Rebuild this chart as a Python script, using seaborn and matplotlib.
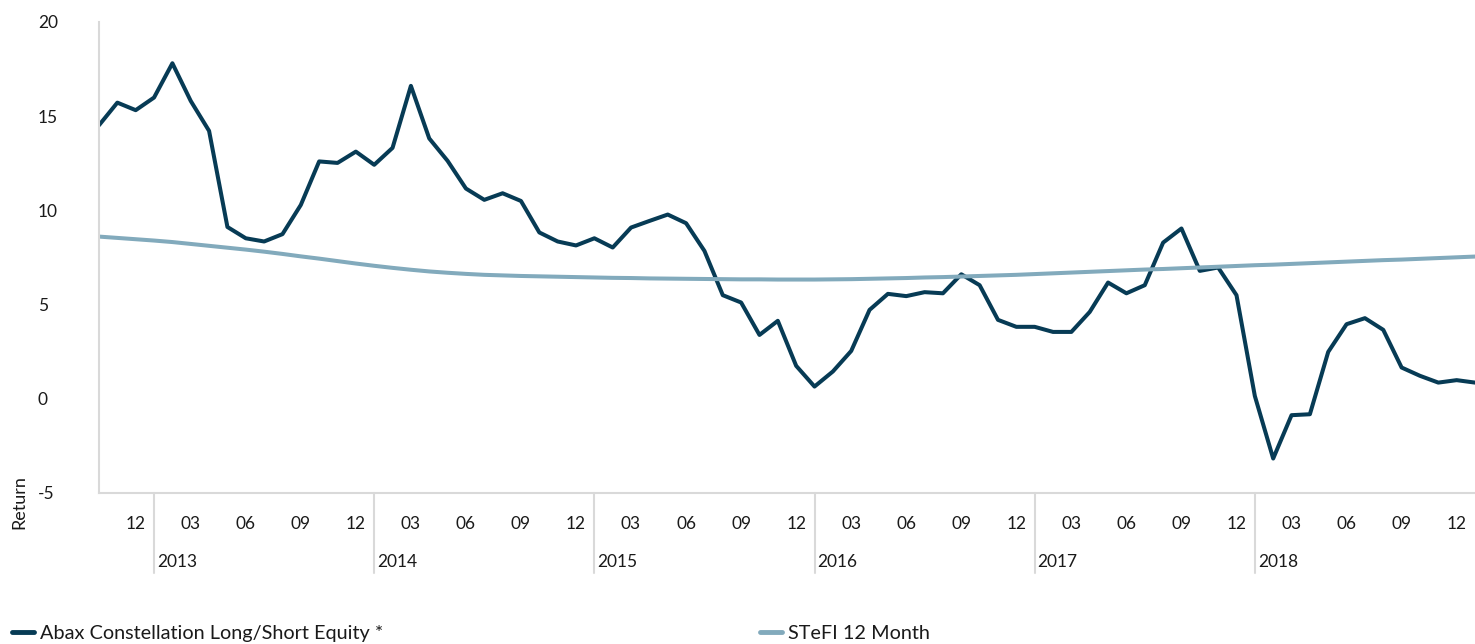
import pandas as pd
import seaborn as sns
import matplotlib.pyplot as plt
import matplotlib.transforms as mtransforms

# monthly rolling 12m returns, Oct 2012 .. Jan 2019
months = pd.date_range('2012-10-01', periods=76, freq='MS')

abax = [14.52, 15.72, 15.32, 15.99, 17.81, 15.81, 14.22, 9.12, 8.52, 8.35,
        8.74, 10.29, 12.6, 12.52, 13.12, 12.42, 13.32, 16.61, 13.82, 12.63,
        11.16, 10.56, 10.91, 10.5, 8.83, 8.35, 8.14, 8.52, 8.03, 9.09,
        9.44, 9.78, 9.32, 7.85, 5.5, 5.11, 3.39, 4.14, 1.75, 0.65,
        1.45, 2.54, 4.72, 5.57, 5.45, 5.66, 5.6, 6.61, 6.03, 4.19,
        3.82, 3.82, 3.55, 3.55, 4.61, 6.17, 5.6, 6.03, 8.29, 9.04,
        6.79, 6.97, 5.5, 0.15, -3.17, -0.87, -0.82, 2.49, 3.96, 4.28,
        3.66, 1.66, 1.22, 0.86, 0.99, 0.86]

stefi = [8.61, 8.54, 8.47, 8.40, 8.32, 8.22, 8.12, 8.02, 7.92, 7.81,
         7.69, 7.56, 7.44, 7.31, 7.18, 7.06, 6.95, 6.85, 6.76, 6.69,
         6.63, 6.58, 6.55, 6.52, 6.50, 6.48, 6.46, 6.44, 6.42, 6.41,
         6.39, 6.38, 6.37, 6.36, 6.35, 6.34, 6.34, 6.33, 6.33, 6.33,
         6.34, 6.35, 6.37, 6.39, 6.41, 6.44, 6.46, 6.49, 6.52, 6.55,
         6.58, 6.62, 6.66, 6.70, 6.74, 6.78, 6.82, 6.86, 6.89, 6.93,
         6.97, 7.01, 7.05, 7.09, 7.12, 7.16, 7.20, 7.24, 7.28, 7.32,
         7.36, 7.39, 7.43, 7.47, 7.51, 7.55]

series_names = ['Abax Constellation Long/Short Equity *', 'STeFI 12 Month']
colors = ['#073B55', '#82AABC']
y_ticks = [-5, 0, 5, 10, 15, 20]

idx = list(range(len(months)))
df = pd.DataFrame({
    'idx': idx * 2,
    'Return': abax + stefi,
    'series': [series_names[0]] * len(idx) + [series_names[1]] * len(idx),
})

sns.set_theme(style='white')
plt.rcParams['font.family'] = ['Lato', 'DejaVu Sans']

grey = '#d9d9d9'
txt = '#1a1a1a'

fig = plt.figure(figsize=(14.75, 6.44), dpi=100)
ax = fig.add_axes([99 / 1475, 1 - 493 / 644, 1 - 99 / 1475, (493 - 22) / 644])

sns.lineplot(data=df, x='idx', y='Return', hue='series', palette=colors,
             linewidth=2.9, ax=ax, legend=False)

ax.set_xlim(0, 75)
ax.set_ylim(-5, 20)

for s in ['top', 'right']:
    ax.spines[s].set_visible(False)
for s in ['left', 'bottom']:
    ax.spines[s].set_color(grey)
    ax.spines[s].set_linewidth(1.5)

# y axis
ax.set_yticks(y_ticks)
ax.set_yticklabels([str(v) for v in y_ticks])
ax.tick_params(axis='y', length=10, width=1.5, color=grey, pad=34,
               labelsize=12.5, labelcolor=txt)
for lab in ax.get_yticklabels():
    lab.set_horizontalalignment('left')

ax.set_ylabel('Return', fontsize=13, color=txt)
ax.yaxis.set_label_coords(-0.0523, -0.019)

# x axis: quarter ticks at Oct/Jan/Apr/Jul, labels at quarter-end months
q_start = [i for i, m in enumerate(months) if m.month in (1, 4, 7, 10) and i < 75]
q_end = [i for i, m in enumerate(months) if m.month in (3, 6, 9, 12)]
q_lab = [months[i].strftime('%m') for i in q_end]
ax.set_xticks(q_start)
ax.set_xticklabels([''] * len(q_start))
ax.set_xticks(q_end, minor=True)
ax.set_xticklabels(q_lab, minor=True)
ax.tick_params(axis='x', which='major', length=10, width=1.5, color=grey)
ax.tick_params(axis='x', which='minor', length=0, pad=16.5, labelsize=12.5,
               labelcolor=txt)
ax.set_xlabel('')

# year separators and year labels
trans = mtransforms.blended_transform_factory(ax.transData, ax.transAxes)
year_idx = [i for i, m in enumerate(months) if m.month == 1 and i < 75]
for i in year_idx:
    ax.plot([i, i], [0, -80 / 471], transform=trans, color=grey, lw=1.5,
            clip_on=False)
    ax.annotate(str(months[i].year), xy=(i, 0), xycoords=trans,
                xytext=(3, -69), textcoords='offset pixels', ha='left',
                va='center', fontsize=12.5, color=txt)

# legend
handles = [plt.Line2D([], [], color=c, lw=3.5) for c in colors]
fig.legend(handles, series_names, loc='lower left', ncol=2,
           bbox_to_anchor=(-0.004, -0.024), frameon=False, fontsize=14.3,
           handlelength=1.1, handletextpad=0.3, columnspacing=19.0,
           labelcolor=txt)

fig.savefig('out.png', dpi=100)
